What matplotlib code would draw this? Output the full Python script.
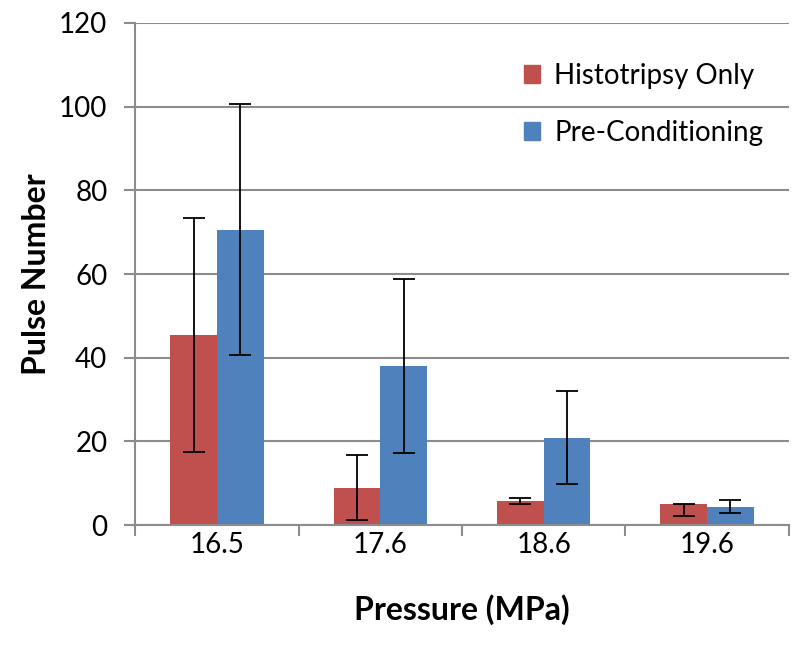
import numpy as np
import matplotlib
matplotlib.use('Agg')
import matplotlib.pyplot as plt
from matplotlib.patches import Patch

plt.rcParams['font.family'] = ['Lato', 'DejaVu Sans']

pressures = ['16.5', '17.6', '18.6', '19.6']
histo_only = [45.3, 8.9, 5.8, 5.0]
histo_lo = [17.4, 1.1, 5.0, 2.2]
histo_hi = [73.4, 16.8, 6.5, 5.0]
precond = [70.6, 38.1, 20.8, 4.4]
precond_lo = [40.7, 17.2, 9.7, 2.8]
precond_hi = [100.7, 58.9, 32.1, 6.0]

red = '#C0504D'
blue = '#4F81BD'
grid_c = '#8c8c8c'

x = np.arange(len(pressures))
w = 1 / 3.5

fig = plt.figure(figsize=(8, 6.46), dpi=100)
ax = fig.add_axes([0.169, 0.1873, 0.817, 0.7771])

h = np.array(histo_only)
p = np.array(precond)
herr = [h - np.array(histo_lo), np.array(histo_hi) - h]
perr = [p - np.array(precond_lo), np.array(precond_hi) - p]

ax.bar(x - w / 2, h, w, color=red, zorder=2)
ax.bar(x + w / 2, p, w, color=blue, zorder=2)
ax.errorbar(x - w / 2, h, yerr=herr, fmt='none', ecolor='black',
            elinewidth=1.3, capsize=8, capthick=1.3, zorder=3)
ax.errorbar(x + w / 2, p, yerr=perr, fmt='none', ecolor='black',
            elinewidth=1.3, capsize=8, capthick=1.3, zorder=3)

ax.set_xlim(-0.5, len(pressures) - 0.5)
ax.set_ylim(0, 120)
ax.set_yticks(np.arange(0, 121, 20))
ax.yaxis.grid(True, color=grid_c, linewidth=1.5, zorder=0)
ax.set_axisbelow(True)

ax.set_xticks(x)
ax.set_xticklabels(pressures, fontsize=20)
ax.set_xticks(np.arange(-0.5, len(pressures), 1), minor=True)
ax.tick_params(axis='x', which='major', length=0, pad=5)
ax.tick_params(axis='x', which='minor', length=8, width=1.5, color=grid_c)
ax.tick_params(axis='y', length=8, width=1.5, color=grid_c, labelsize=20, pad=12)

for s in ['top', 'right']:
    ax.spines[s].set_visible(False)
for s in ['left', 'bottom']:
    ax.spines[s].set_color(grid_c)
    ax.spines[s].set_linewidth(1.5)

ax.set_xlabel('Pressure (MPa)', fontsize=23, fontweight='bold', labelpad=26)
ax.set_ylabel('Pulse Number', fontsize=23, fontweight='bold', labelpad=6)

handles = [Patch(color=red, label='Histotripsy Only'),
           Patch(color=blue, label='Pre-Conditioning')]
ax.legend(handles=handles, loc='upper left', bbox_to_anchor=(0.556, 0.97),
          frameon=False, fontsize=20, handlelength=0.6, handleheight=0.6,
          handletextpad=0.5, labelspacing=1.1)

fig.savefig('out.png', dpi=100)
